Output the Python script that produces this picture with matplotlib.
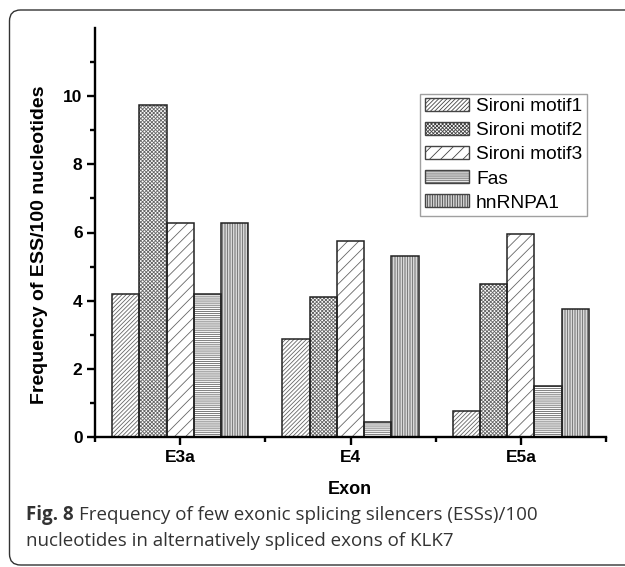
import matplotlib
matplotlib.use("Agg")
import matplotlib.pyplot as plt
from matplotlib.patches import FancyBboxPatch, Patch
from matplotlib.transforms import IdentityTransform
import numpy as np

exons = ["E3a", "E4", "E5a"]
series = ["Sironi motif1", "Sironi motif2", "Sironi motif3", "Fas", "hnRNPA1"]
motif1 = [4.20, 2.87, 0.76]
motif2 = [9.74, 4.10, 4.50]
motif3 = [6.27, 5.75, 5.97]
fas = [4.20, 0.43, 1.50]
hnrnpa1 = [6.27, 5.32, 3.75]
hatches = ["////////", "xxxxxxxxx", "///", "--------", "||||||||||"]

plt.rcParams["font.family"] = ["Liberation Sans", "DejaVu Sans"]
plt.rcParams["hatch.linewidth"] = 0.6

W, H = 625, 567
fig = plt.figure(figsize=(W / 100, H / 100), dpi=100)
ax = fig.add_axes([95 / W, 1 - 437 / H, (606 - 95) / W, (437 - 28) / H])

pos = np.arange(1, len(exons) + 1)
bw = 0.16
data = [motif1, motif2, motif3, fas, hnrnpa1]
for i, vals in enumerate(data):
    x = pos + (i - 2) * bw
    # hatch in grey, then dark outline on top
    ax.bar(x, vals, width=bw, facecolor="white", edgecolor="#666666",
           linewidth=0, hatch=hatches[i], zorder=2)
    ax.bar(x, vals, width=bw, fill=False, edgecolor="#222222",
           linewidth=1.1, zorder=2.5)

ax.set_xlim(0.5, 3.5)
ax.set_ylim(0, 12)
ax.set_xticks(pos)
ax.set_xticklabels(exons)
ax.set_xticks([0.5, 1.5, 2.5, 3.5], minor=True)
ax.set_yticks([0, 2, 4, 6, 8, 10])
ax.set_yticks([1, 3, 5, 7, 9, 11], minor=True)
for s in ["top", "right"]:
    ax.spines[s].set_visible(False)
for s in ["left", "bottom"]:
    ax.spines[s].set_linewidth(1.7)
    ax.spines[s].set_zorder(3)
ax.tick_params(which="major", length=6, width=1.7, pad=3, labelsize=12.5)
ax.tick_params(which="minor", length=3.5, width=1.7)
for lab in ax.get_xticklabels() + ax.get_yticklabels():
    lab.set_fontweight("bold")

fig.text(40 / W, 1 - 245 / H, "Frequency of ESS/100 nucleotides", rotation=90,
         ha="center", va="center", fontsize=14, fontweight="bold")
fig.text(350 / W, 1 - 490 / H, "Exon", ha="center", va="center",
         fontsize=13, fontweight="bold")

handles = [Patch(facecolor="white", edgecolor="#444444", linewidth=1.0,
                 hatch=h) for h in hatches]
leg = ax.legend(handles, series, loc="upper left",
                bbox_to_anchor=(420.5 / W, 1 - 93.5 / H),
                bbox_transform=fig.transFigure, fontsize=13.8, frameon=True,
                fancybox=False, labelspacing=0.36, handlelength=2.3,
                handleheight=0.65, handletextpad=0.35, borderpad=0.25,
                borderaxespad=0)
leg.get_frame().set_edgecolor("#888888")
leg.get_frame().set_linewidth(1.0)

# caption
r = fig.canvas.get_renderer()
cap_kw = dict(family=["Open Sans", "DejaVu Sans"], fontsize=13.5, color="#333333",
              va="baseline")
t1 = fig.text(26 / W, 1 - 520 / H, "Fig. 8", fontweight="bold", **cap_kw)
bb = t1.get_window_extent(r)
fig.text((bb.x1 + 5) / W, 1 - 520 / H,
         "Frequency of few exonic splicing silencers (ESSs)/100", **cap_kw)
fig.text(26 / W, 1 - 546 / H,
         "nucleotides in alternatively spliced exons of KLK7", **cap_kw)

# rounded frame
frame = FancyBboxPatch((9.5, 2), 700, 555, boxstyle="round,pad=0,rounding_size=11",
                       transform=IdentityTransform(), facecolor="none",
                       edgecolor="#333333", linewidth=1.0)
fig.add_artist(frame)

fig.savefig("out.png", dpi=100)
